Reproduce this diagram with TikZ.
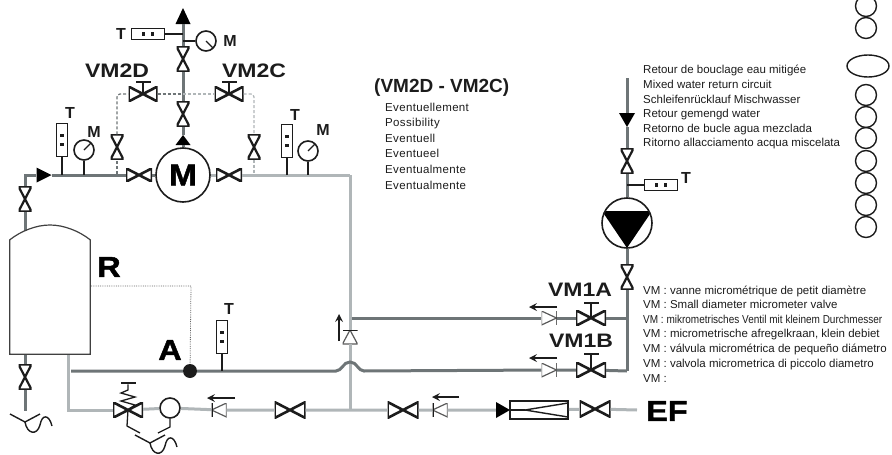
\documentclass[tikz,border=0pt]{standalone}
\usepackage{fontspec}
\setmainfont{Liberation Sans}
\newfontfamily\notefont{Liberation Sans}
\newfontfamily\narrownote[FakeStretch=0.87]{Liberation Sans}
\newfontfamily\spacednote[LetterSpace=3]{Liberation Sans}
\newfontfamily\vmfont[FakeStretch=1.18]{Liberation Sans}
\newfontfamily\heavyfont[FakeStretch=1.12,FakeBold=1.5]{Liberation Sans Bold}
\usetikzlibrary{arrows,shapes.geometric}

\definecolor{pipedk}{HTML}{6E7577}
\definecolor{pipelt}{HTML}{B0B6B8}
\definecolor{inkdk}{HTML}{1C1C1C}

\tikzset{
    pipedark/.style={draw=pipedk, line width=3pt},
    pipelight/.style={draw=pipelt, line width=3pt},
    dashdark/.style={draw=pipedk, line width=1.2pt, densely dashed, rounded corners=3pt},
    dashlight/.style={draw=pipelt, line width=1.2pt, densely dashed, rounded corners=3pt},
    stub/.style={draw=inkdk, line width=1.3pt},
    valveh/.style={inner sep=0pt, minimum width=#1, minimum height=#1*0.52, path picture={
        \draw[inkdk, line width=2.6pt]
        (path picture bounding box.south west) -- (path picture bounding box.north east)
        -- (path picture bounding box.south east) -- (path picture bounding box.north west) -- cycle;}},
    valveh/.default=26pt,
    valvev/.style={inner sep=0pt, minimum width=13pt, minimum height=25pt, path picture={
        \draw[inkdk, line width=2.2pt]
        (path picture bounding box.south west) -- (path picture bounding box.north east)
        -- (path picture bounding box.north west) -- (path picture bounding box.south east) -- cycle;}},
    checkbar/.style n args={5}{inner sep=0pt, minimum width=15pt, minimum height=14pt, path picture={
        \draw[black!65, line width=1.2pt] (path picture bounding box.#1) -- (path picture bounding box.#2)
        -- (path picture bounding box.#3) -- cycle;
        \draw[inkdk, line width=2pt] (path picture bounding box.#4) -- (path picture bounding box.#5);}},
    chkright/.style={checkbar={north west}{south west}{east}{north east}{south east}},
    chkleft/.style={checkbar={north east}{south east}{west}{north west}{south west}},
    chkup/.style={checkbar={south west}{south east}{north}{north west}{north east}},
    triup/.style={inner sep=0pt, minimum width=15pt, minimum height=#1, path picture={
        \fill[black] (path picture bounding box.south west) -- (path picture bounding box.north)
        -- (path picture bounding box.south east) -- cycle;}},
    tridown/.style={inner sep=0pt, minimum width=16pt, minimum height=14pt, path picture={
        \fill[black] (path picture bounding box.north west) -- (path picture bounding box.south)
        -- (path picture bounding box.north east) -- cycle;}},
    triright/.style={inner sep=0pt, minimum width=15pt, minimum height=15pt, path picture={
        \fill[black] (path picture bounding box.north west) -- (path picture bounding box.east)
        -- (path picture bounding box.south west) -- cycle;}},
    thermoh/.style={draw=inkdk, line width=1.6pt, fill=white, inner sep=0pt, minimum width=33pt, minimum height=11pt, path picture={
        \fill[inkdk] ([shift={(-6,-2)}]path picture bounding box.center) rectangle +(3,4);
        \fill[inkdk] ([shift={(3,-2)}]path picture bounding box.center) rectangle +(3,4);}},
    thermov/.style={draw=inkdk, line width=1.6pt, fill=white, inner sep=0pt, minimum width=11pt, minimum height=33pt, path picture={
        \fill[inkdk] ([shift={(-2,-6)}]path picture bounding box.center) rectangle +(4,3);
        \fill[inkdk] ([shift={(-2,3)}]path picture bounding box.center) rectangle +(4,3);}},
    gauge/.style={circle, draw=inkdk, line width=1.6pt, fill=white, inner sep=0pt, minimum size=20pt, path picture={
        \draw[inkdk, line width=1.3pt] (path picture bounding box.center) -- (path picture bounding box.#1);}},
    gaugeplain/.style={circle, draw=inkdk, line width=1.6pt, fill=white, inner sep=0pt, minimum size=20pt},
    wheelbar/.style={fill=inkdk, inner sep=0pt, minimum width=15pt, minimum height=2.5pt},
    ringbox/.style={circle, draw=inkdk, line width=1.4pt, inner sep=0pt, minimum size=21pt},
    flowarrow/.style={draw=inkdk, line width=2.4pt, ->, >=stealth},
    smalltag/.style={font=\fontsize{16}{16}\bfseries, text=inkdk, inner sep=0pt},
    vmtag/.style={font=\vmfont\fontsize{19.5}{20}\bfseries, text=inkdk, inner sep=0pt},
    bigtag/.style={font=\heavyfont\fontsize{29}{29}\selectfont, text=black, inner sep=0pt},
    noteline/.style={anchor=base west, yshift=-4pt, font=\notefont\fontsize{11.5}{12}\selectfont, text=inkdk, inner sep=0pt},
    evline/.style={anchor=base west, yshift=-4pt, font=\spacednote\fontsize{11.5}{12}\selectfont, text=inkdk, inner sep=0pt},
    drainsym/.pic={
        \draw[inkdk, line width=1.4pt] (-15,-8) -- (0,0) -- (15,-8);
        \draw[inkdk, line width=1.4pt] (0,0) .. controls (2,12) and (12,14) .. (15,3)
            .. controls (17,-8) and (24,-8) .. (27,4);
    }
}

\begin{document}
\begin{tikzpicture}[x=1pt,y=-1pt]
\useasboundingbox (0,0) rectangle (892,455);

% riser above the circulator
\node[circle, draw=inkdk, line width=1.6pt, fill=white, inner sep=0pt, minimum size=54pt,
    font=\heavyfont\fontsize{30}{30}\selectfont] (motor) at (183,175) {M};
\node[triup=10pt] (tririser) at (183,140) {};
\node[valvev] (vmid) at (183,114) {};
\node[valvev] (vtop) at (183,59) {};
\node[triup=16pt] (tiptop) at (183,16) {};
\node[thermoh] (thtop) at (148,34) {};
\node[smalltag] (ttop) at (121,34) {T};
\node[gauge=south east] (gtop) at (206,41) {};
\node[smalltag] (mtop) at (230,41) {M};
\coordinate (jtop) at (183,34);
\coordinate (jgtop) at (183,41);

\draw[pipedark] (motor) -- (tririser) -- (vmid) -- (vtop) -- (tiptop);
\draw[stub] (thtop) -- (jtop);
\draw[stub] (jgtop) -- (gtop);

% optional by-pass valves
\node[valveh=29pt] (vm2d) at (143,94) {};
\node[valveh=29pt] (vm2c) at (229,94) {};
\node[wheelbar] (vm2dbar) at (143,82) {};
\node[wheelbar] (vm2cbar) at (229,82) {};
\node[vmtag] (vm2dlab) at (117,71) {VM2D};
\node[vmtag] (vm2clab) at (254,71) {VM2C};
\node[valvev] (vdl) at (117,147) {};
\node[valvev] (vdr) at (254,147) {};
\coordinate (dlcorner) at (117,94);
\coordinate (drcorner) at (254,94);
\coordinate (dljoin) at (183,94);
\coordinate (dlbot) at (117,174);
\coordinate (drbot) at (254,174);

\draw[dashdark] (dlbot) -- (vdl);
\draw[dashdark] (vdl) -- (dlcorner) -- (vm2d);
\draw[dashdark] (vm2d) -- (dljoin);
\draw[dashlight] (dljoin) -- (vm2c);
\draw[dashlight] (vm2c) -- (drcorner) -- (vdr);
\draw[dashlight] (vdr) -- (drbot);
\draw[stub] (vm2d.center) -- (vm2dbar);
\draw[stub] (vm2c.center) -- (vm2cbar);

% header left and right of the circulator
\node[valveh] (vml) at (139,175) {};
\node[valveh] (vmr) at (229,175) {};
\node[triright] (trileft) at (44,175) {};
\node[valvev] (vleft) at (25,199) {};
\coordinate (tanktop) at (25,231);
\coordinate (cornerl) at (25,175);
\coordinate (cornerr) at (350,175);
\node[thermov] (thl) at (62,140) {};
\node[smalltag] (tl) at (70,113) {T};
\node[gauge=north east] (gl) at (84,150) {};
\node[smalltag] (ml) at (94,132) {M};
\node[thermov] (thr) at (287,141) {};
\node[smalltag] (tr) at (295,115) {T};
\node[gauge=north east] (gr) at (308,151) {};
\node[smalltag] (mr) at (323,130) {M};

\draw[pipedark] (tanktop) -- (vleft) -- (cornerl) -- (trileft) -- (vml);
\draw[pipedark] (vml) -- (motor);
\draw[pipelight] (motor) -- (vmr) -- (cornerr);
\draw[stub] (thl) -- (thl |- cornerl);
\draw[stub] (gl) -- (gl |- cornerl);
\draw[stub] (thr) -- (thr |- cornerr);
\draw[stub] (gr) -- (gr |- cornerr);

% storage tank
\node[minimum width=80pt, minimum height=114pt, inner sep=0pt] (tank) at (50,297) {};
\draw[draw=black!75, line width=1.2pt] (tank.south west) -- (tank.north west)
    .. controls (21,231) and (36,225) .. (50,225)
    .. controls (64,225) and (79,231) .. (tank.north east) -- (tank.south east) -- cycle;
\node[bigtag] (rlab) at (109,267) {R};
\node[bigtag] (alab) at (170,350) {A};
\node[circle, fill=inkdk, inner sep=0pt, minimum size=14pt] (pointa) at (190,371) {};
\coordinate (rout) at (91,286);
\coordinate (rcorner) at (191,286);
\draw[draw=black!60, line width=.8pt, densely dotted] (rout) -- (rcorner) -- (pointa);

\node[valvev] (vdrain) at (25,377) {};
\coordinate (tankdrain) at (25,355);
\coordinate (drainend) at (25,411);
\draw[pipedark] (tankdrain) -- (vdrain) -- (drainend);
\pic at (25,422) {drainsym};

% mixed water return line
\coordinate (darkstart) at (71,371);
\coordinate (humpl) at (336,371);
\coordinate (humpr) at (364,371);
\coordinate (cornerb) at (627,371);
\node[thermov] (thb) at (222,337) {};
\node[smalltag] (tb) at (229,309) {T};
\node[chkright] (chkb) at (549,370) {};
\node[chkright] (chka) at (549,318) {};
\node[valveh=30pt] (vm1b) at (591,370) {};
\node[valveh=30pt] (vm1a) at (591,318) {};
\node[wheelbar] (vm1bbar) at (591,354) {};
\node[wheelbar] (vm1abar) at (591,303) {};
\node[vmtag] (vm1alab) at (580,290) {VM1A};
\node[vmtag] (vm1blab) at (581,341) {VM1B};
\coordinate (upstart) at (352,318);
\coordinate (jright) at (627,318);
\coordinate (arrowal) at (529,307);
\coordinate (arrowar) at (557,307);
\coordinate (arrowbl) at (529,358);
\coordinate (arrowbr) at (557,358);

% cold water line
\coordinate (tankret) at (68,355);
\coordinate (retcorner) at (68,410);
\coordinate (jt) at (350,410);
\coordinate (efend) at (637,410);
\node[valveh=30pt] (prv) at (128,410) {};
\node[wheelbar] (prvbar) at (128,383) {};
\node[gaugeplain] (gprv) at (170,408) {};
\node[chkleft] (chk1) at (219,410) {};
\node[valveh=31pt] (v3) at (290,410) {};
\node[valveh=31pt] (v4) at (403,410) {};
\node[chkleft] (chk2) at (440,410) {};
\node[triright, minimum width=14pt, minimum height=16pt] (trifilt) at (503,410) {};
\node[draw=inkdk, line width=1.8pt, inner sep=0pt, minimum width=58pt, minimum height=18pt, path picture={
    \draw[inkdk, line width=1.4pt] ([shift={(58,-7)}]path picture bounding box.west)
    -- ([shift={(15,0)}]path picture bounding box.west) -- ([shift={(58,7)}]path picture bounding box.west);
    \draw[inkdk, line width=1.4pt] (path picture bounding box.west) -- ([shift={(15,0)}]path picture bounding box.west);
    }] (filter) at (539,410) {};
\node[valveh=31pt] (v5) at (595,409) {};
\node[bigtag, anchor=west] (eflab) at (646,411) {EF};
\node[chkup] (chkv) at (350,337) {};
\coordinate (arrowvb) at (339,341);
\coordinate (arrowvt) at (339,314);
\coordinate (arrow1r) at (235,398);
\coordinate (arrow1l) at (207,398);
\coordinate (arrow2r) at (459,397);
\coordinate (arrow2l) at (432,397);

\draw[pipelight] (tankret) -- (retcorner) -- (prv);
\draw[pipelight] (prv) -- (gprv) -- (chk1) -- (v3) -- (jt) -- (v4) -- (chk2) -- (trifilt);
\draw[pipelight] (filter) -- (v5) -- (efend);
\draw[pipelight] (jt) -- (chkv) -- (cornerr);
\draw[pipedark] (darkstart) -- (pointa) -- (humpl)
    .. controls (342,371) and (343,362) .. (350,362)
    .. controls (357,362) and (358,371) .. (humpr) -- (chkb) -- (vm1b) -- (cornerb);
\draw[pipedark] (upstart) -- (chka) -- (vm1a) -- (jright);
\draw[stub] (thb) -- (thb |- cornerb);
\draw[stub] (vm1a.center) -- (vm1abar);
\draw[stub] (vm1b.center) -- (vm1bbar);

\draw[flowarrow] (arrowar) -- (arrowal);
\draw[flowarrow] (arrowbr) -- (arrowbl);
\draw[flowarrow] (arrowvb) -- (arrowvt);
\draw[flowarrow] (arrow1r) -- (arrow1l);
\draw[flowarrow] (arrow2r) -- (arrow2l);

% reducer with its spring and waste
\coordinate (spring) at (128,390);
\coordinate (prvdrain) at (127,426);
\coordinate (prvdrainb) at (140,433);
\coordinate (gprvdrain) at (170,427);
\coordinate (gprvdrainb) at (158,433);
\draw[stub] (prvbar) -- (spring) -- (121,393) -- (135,397) -- (121,401) -- (135,405) -- (prv.center);
\draw[stub] (prv.center) -- (prvdrain) -- (prvdrainb);
\draw[stub] (gprv) -- (gprvdrain) -- (gprvdrainb);
\pic at (150,443) {drainsym};

% pump branch
\node[circle, draw=inkdk, line width=1.6pt, fill=white, inner sep=0pt, minimum size=50pt, path picture={
    \fill[black] ([shift={(-25,-12)}]path picture bounding box.center) -- ([shift={(25,-12)}]path picture bounding box.center)
    -- ([shift={(0,25)}]path picture bounding box.center) -- cycle;
    }] (pump) at (627,223) {};
\node[valvev] (vpumplow) at (627,277) {};
\node[valvev] (vpumptop) at (627,161) {};
\node[tridown] (tripump) at (627,120) {};
\coordinate (branchtop) at (627,78);
\coordinate (jtpump) at (627,185);
\node[thermoh] (thp) at (661,185) {};
\node[smalltag] (tp) at (686,178) {T};

\draw[pipedark] (cornerb) -- (vpumplow) -- (pump) -- (vpumptop) -- (tripump) -- (branchtop);
\draw[stub] (jtpump) -- (thp);

% notes
\node[font=\fontsize{19}{19}\bfseries, anchor=west, text=inkdk, inner sep=0pt] (bypasshead) at (374,88) {(VM2D - VM2C)};
\node[evline] (ev1) at (385,107) {Eventuellement};
\node[evline] (ev2) at (385,122) {Possibility};
\node[evline] (ev3) at (385,138) {Eventuell};
\node[evline] (ev4) at (385,153) {Eventueel};
\node[evline] (ev5) at (385,169) {Eventualmente};
\node[evline] (ev6) at (385,185) {Eventualmente};

\node[noteline] (ret1) at (643,69.5) {Retour de bouclage eau mitigée};
\node[noteline] (ret2) at (643,84) {Mixed water return circuit};
\node[noteline] (ret3) at (643,99) {Schleifenrücklauf Mischwasser};
\node[noteline] (ret4) at (643,113) {Retour gemengd water};
\node[noteline] (ret5) at (643,128) {Retorno de bucle agua mezclada};
\node[noteline] (ret6) at (643,142.5) {Ritorno allacciamento acqua miscelata};

\node[noteline] (vmn1) at (643,290) {VM : vanne micrométrique de petit diamètre};
\node[noteline] (vmn2) at (643,304) {VM : Small diameter  micrometer valve};
\node[noteline, font=\narrownote\fontsize{11.5}{12}\selectfont] (vmn3) at (643,319) {VM : mikrometrisches Ventil mit kleinem Durchmesser};
\node[noteline] (vmn4) at (643,333) {VM : micrometrische afregelkraan, klein debiet};
\node[noteline] (vmn5) at (643,348) {VM : válvula micrométrica de pequeño diámetro};
\node[noteline] (vmn6) at (643,363) {VM : valvola micrometrica di piccolo diametro};
\node[noteline] (vmn7) at (643,378) {VM :};

% blank rings on the right edge
\node[ringbox] (ring1) at (866,6) {};
\node[ringbox] (ring2) at (866,28) {};
\node[ellipse, draw=inkdk, line width=1.4pt, inner sep=0pt, minimum width=42pt, minimum height=22pt] (ringe) at (868,66) {};
\node[ringbox] (ring3) at (866,95) {};
\node[ringbox] (ring4) at (866,117) {};
\node[ringbox] (ring5) at (866,138) {};
\node[ringbox] (ring6) at (866,161) {};
\node[ringbox] (ring7) at (866,183) {};
\node[ringbox] (ring8) at (866,205) {};
\node[ringbox] (ring9) at (866,227) {};

\end{tikzpicture}
\end{document}
